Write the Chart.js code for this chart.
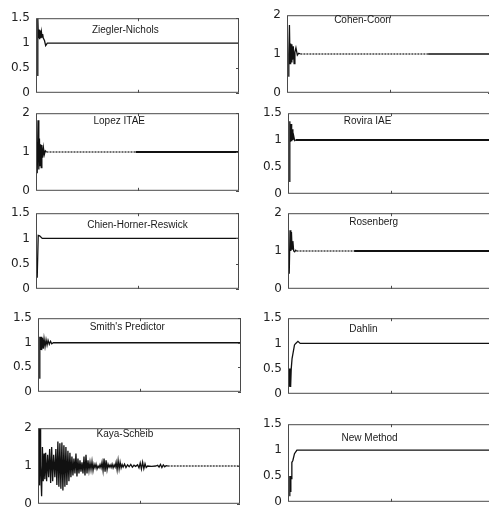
<!DOCTYPE html>
<html>
<head>
<meta charset="utf-8">
<script src="https://cdn.jsdelivr.net/npm/chart.js@4.4.1/dist/chart.umd.min.js"></script>
<style>
html, body { margin: 0; padding: 0; background: #fff; }
body { position: relative; width: 489px; height: 510px; overflow: hidden; }
canvas { position: absolute; }
</style>
</head>
<body>
<script>
// step responses (time 0..100, output)
const znT = [0, 0.3, 0.6, 0.9, 1.2, 1.5, 1.8, 2.1, 2.4, 2.7, 3.0, 3.6, 4.2, 5.0, 100];
const znY = [0.35, 1.5, 1.1, 1.27, 1.08, 1.25, 1.1, 1.22, 1.12, 1.18, 1.1, 1.05, 0.95, 1.0, 1.0];

const lopezT = [0, 0.4, 0.8, 1.1, 1.4, 1.7, 2.0, 2.3, 2.7, 3.1, 3.5, 4.0, 4.6, 48.8, 100];
const lopezY = [0.45, 1.82, 0.55, 1.35, 0.65, 1.2, 0.6, 1.18, 0.85, 1.1, 0.93, 1.03, 1.0, 1.0, 1.0];

const chienT = [0, 0.5, 1.2, 2.5, 100];
const chienY = [0.22, 1.06, 1.05, 1.0, 1.0];

const smithT = [0, 0.3, 0.6, 0.9, 1.2, 1.6, 2.0, 2.4, 2.9, 3.4, 3.9, 4.4, 5.0, 5.6, 6.2, 7.0, 100];
const smithY = [0.28, 1.12, 0.85, 1.12, 0.85, 1.1, 0.88, 1.08, 0.92, 1.06, 0.95, 1.05, 0.97, 1.03, 0.98, 1.0, 1.0];

const kayaT = [0, 0.2, 0.4, 0.6, 0.8, 1.2, 1.6, 2.0, 2.4, 2.8, 3.2, 3.7, 4.2, 4.7, 5.2, 5.7, 6.2, 6.7, 7.2, 7.8,
  8.3, 8.8, 9.3, 9.8, 10.3, 10.8, 11.3, 11.8, 12.3, 12.8, 13.3, 13.8, 14.3, 14.8, 15.3, 15.8, 16.3, 16.8, 17.3, 17.8,
  18.3, 18.8, 19.3, 19.8, 20.3, 20.8, 21.3, 21.8, 22.3, 22.8, 23.3, 23.8, 24.3, 24.8, 25.3, 25.8, 26.3, 26.8, 27.3, 27.8,
  28.3, 28.8, 29.3, 29.8, 30.3, 30.8, 31.3, 31.8, 32.3, 32.8, 33.3, 33.8, 34.3, 34.8, 35.3, 35.8, 36.3, 36.8, 37.3, 37.8,
  38.3, 38.8, 39.3, 39.8, 40.3, 40.8, 41.3, 41.8, 42.5, 43.2, 44.0, 44.8, 45.6, 46.4, 47.2, 48.0, 49.0, 49.7, 50.3, 50.9,
  51.5, 52.1, 52.7, 53.3, 54.0, 56.0, 58.0, 59.0, 59.7, 60.4, 61.1, 61.8, 62.5, 63.2, 64.0, 100];
const kayaY = [0.5, 2.0, 1.1, 2.0, 1.0, 0.2, 1.5, 0.6, 1.33, 0.65, 1.35, 0.6, 1.3, 0.7, 1.45, 0.55, 1.5, 0.6, 1.3, 0.7,
  1.45, 0.5, 1.65, 0.45, 1.6, 0.4, 1.62, 0.35, 1.55, 0.45, 1.5, 0.5, 1.4, 0.6, 1.35, 0.7, 1.25, 0.75, 1.2, 0.8,
  1.33, 0.72, 1.2, 0.8, 1.15, 0.85, 1.1, 0.8, 1.25, 0.75, 1.3, 0.8, 1.15, 0.88, 1.1, 0.9, 1.12, 0.88, 1.05, 0.95,
  1.05, 0.92, 1.0, 0.95, 1.04, 0.95, 1.1, 0.88, 1.2, 0.85, 1.15, 0.9, 1.05, 0.97, 1.03, 0.96, 1.05, 0.95, 1.03, 0.97,
  1.1, 0.9, 1.15, 0.92, 1.1, 0.95, 1.04, 0.97, 1.05, 0.96, 1.03, 0.98, 1.04, 0.97, 1.02, 0.99, 1.03, 0.95, 1.08, 0.92,
  1.1, 0.93, 1.06, 0.96, 1.0, 0.99, 1.0, 1.02, 0.97, 1.04, 0.96, 1.03, 0.98, 1.01, 1.0, 1.0];

const cohenT = [0, 0.3, 0.6, 0.9, 1.2, 1.5, 1.8, 2.1, 2.5, 2.9, 3.3, 3.8, 4.5, 5.2, 6.0, 69, 100];
const cohenY = [0.43, 1.0, 1.75, 0.75, 1.27, 0.8, 1.25, 0.85, 1.2, 0.75, 1.05, 1.16, 0.97, 1.02, 1.0, 1.0, 1.0];

const roviraT = [0, 0.3, 0.6, 0.9, 1.2, 1.5, 1.8, 2.2, 2.7, 3.2, 100];
const roviraY = [0.23, 1.35, 0.97, 1.3, 0.98, 1.2, 1.0, 1.08, 0.99, 1.0, 1.0];

const rosenT = [0, 0.4, 0.8, 1.1, 1.4, 1.8, 2.2, 2.7, 3.2, 3.6, 32, 100];
const rosenY = [0.4, 1.55, 1.0, 1.5, 1.05, 1.26, 1.0, 0.98, 1.02, 1.0, 1.0, 1.0];

const dahlinT = [0, 0.2, 0.4, 0.6, 0.8, 1.0, 1.4, 2.6, 3.2, 4.3, 5.4, 100];
const dahlinY = [0.15, 0.5, 0.15, 0.5, 0.15, 0.5, 0.7, 0.97, 1.0, 1.04, 1.0, 1.0];

const newT = [0, 0.3, 0.5, 0.8, 1.0, 1.3, 1.8, 2.6, 3.8, 100];
const newY = [0.12, 0.5, 0.2, 0.5, 0.45, 0.76, 0.8, 0.93, 1.0, 1.0];

// axis ticks per panel
const ticks15 = [0, 0.5, 1, 1.5];
const ticks2 = [0, 1, 2];

// panel layout: box = [left, top, right, bottom] in page pixels
const panels = [
  { title: 'Ziegler-Nichols', t: znT, y: znY, yTicks: ticks15, box: [36, 13, 239, 98], lab: [0.44, 0.16] },
  { title: 'Lopez ITAE', t: lopezT, y: lopezY, yTicks: ticks2, box: [36, 108, 239, 196], lab: [0.41, 0.10], ripple: [4.6, 48.8], thickFrom: 48.8 },
  { title: 'Chien-Horner-Reswick', t: chienT, y: chienY, yTicks: ticks15, box: [36, 208, 239, 294], lab: [0.5, 0.16] },
  { title: "Smith's Predictor", t: smithT, y: smithY, yTicks: ticks15, box: [38, 313, 241, 397], lab: [0.44, 0.12] },
  { title: 'Kaya-Scheib', t: kayaT, y: kayaY, yTicks: ticks2, box: [38, 423, 240, 509], lab: [0.43, 0.08], ripple: [64, 100] },
  { title: 'Cohen-Coon', t: cohenT, y: cohenY, yTicks: ticks2, box: [287, 10, 491, 98], lab: [0.37, 0.06], ripple: [6, 69] },
  { title: 'Rovira IAE', t: roviraT, y: roviraY, yTicks: ticks15, box: [288, 108, 492, 199], lab: [0.39, 0.10], thickFrom: 3.2 },
  { title: 'Rosenberg', t: rosenT, y: rosenY, yTicks: ticks2, box: [288, 208, 492, 294], lab: [0.42, 0.12], ripple: [3.6, 32], thickFrom: 32 },
  { title: 'Dahlin', t: dahlinT, y: dahlinY, yTicks: ticks15, box: [288, 313, 492, 399], lab: [0.37, 0.14] },
  { title: 'New Method', t: newT, y: newY, yTicks: ticks15, box: [288, 419, 492, 507], lab: [0.40, 0.18] }
];

// frame, inner ticks and the caption inside each box
const panelFrame = {
  id: 'panelFrame',
  afterDatasetsDraw(chart, args, opts) {
    const { ctx, chartArea: a, scales: { x, y } } = chart;
    ctx.save();
    ctx.strokeStyle = '#4a4a4a';
    ctx.lineWidth = 1;
    ctx.strokeRect(a.left + 0.5, a.top + 0.5, a.width - 1, a.height - 1);
    ctx.beginPath();
    const xm = Math.round(x.getPixelForValue(50)) + 0.5;
    ctx.moveTo(xm, a.top); ctx.lineTo(xm, a.top + 3);
    ctx.moveTo(xm, a.bottom); ctx.lineTo(xm, a.bottom - 3);
    y.ticks.forEach(t => {
      const py = Math.round(y.getPixelForValue(t.value)) + 0.5;
      ctx.moveTo(a.right, py); ctx.lineTo(a.right - 3, py);
    });
    ctx.stroke();
    ctx.fillStyle = '#1a1a1a';
    ctx.font = '10px "Liberation Sans", Arial, sans-serif';
    ctx.textAlign = 'center';
    ctx.textBaseline = 'middle';
    ctx.fillText(opts.title, a.left + a.width * opts.fx, a.top + a.height * opts.fy);
    ctx.restore();
  }
};

function makePanel(p) {
  const padL = 40, padT = 8, padR = 4, padB = 8;
  const w = p.box[2] - p.box[0] + padL + padR;
  const h = p.box[3] - p.box[1] + padT + padB;
  const c = document.createElement('canvas');
  c.width = w; c.height = h;
  c.style.left = (p.box[0] - padL) + 'px';
  c.style.top = (p.box[1] - padT) + 'px';
  c.style.width = w + 'px';
  c.style.height = h + 'px';
  document.body.appendChild(c);

  const inRipple = s => p.ripple && s.p0.parsed.x >= p.ripple[0] && s.p1.parsed.x <= p.ripple[1];
  const isThick = s => p.thickFrom !== undefined && s.p0.parsed.x >= p.thickFrom;

  new Chart(c, {
    type: 'line',
    data: {
      datasets: [{
        data: p.t.map((t, i) => ({ x: t, y: p.y[i] })),
        borderColor: '#111',
        borderWidth: 1.3,
        pointRadius: 0,
        tension: 0,
        segment: {
          borderDash: s => inRipple(s) ? [2, 1] : undefined,
          borderColor: s => inRipple(s) ? '#444' : undefined,
          borderWidth: s => inRipple(s) ? 1.6 : (isThick(s) ? 2 : undefined)
        }
      }]
    },
    options: {
      responsive: false,
      animation: false,
      events: [],
      layout: { padding: { top: padT, bottom: padB, right: padR, left: 0 } },
      plugins: {
        legend: { display: false },
        tooltip: { enabled: false },
        panelFrame: { title: p.title, fx: p.lab[0], fy: p.lab[1] }
      },
      scales: {
        x: { type: 'linear', min: -0.6, max: 100, display: false },
        y: {
          min: 0,
          max: p.yTicks[p.yTicks.length - 1],
          afterBuildTicks: s => { s.ticks = p.yTicks.map(v => ({ value: v })); },
          afterFit: s => { s.width = padL; },
          grid: { display: false, drawTicks: false },
          border: { display: false },
          ticks: {
            padding: 6,
            color: '#222',
            font: { family: 'DejaVu Sans', size: 12 },
            callback: v => String(v)
          }
        }
      }
    },
    plugins: [panelFrame]
  });
}

panels.forEach(makePanel);
</script>
</body>
</html>
